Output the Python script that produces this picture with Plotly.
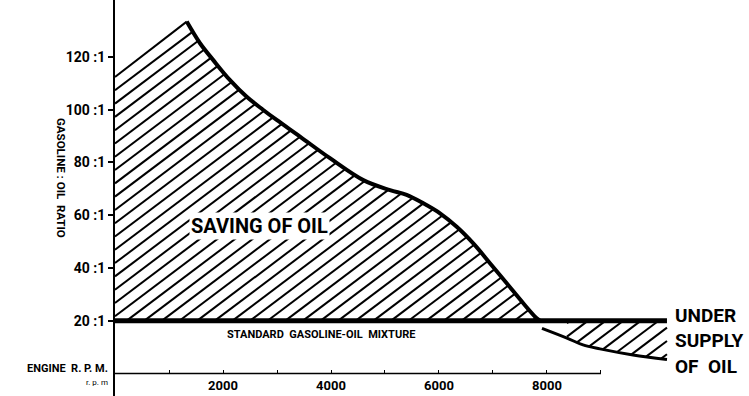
import numpy as np
import plotly.graph_objects as go

# ---- data ----
saving_rpm = [0, 1328, 1574, 1820, 2130, 2439, 2746, 2994, 3426, 3981, 4598, 5093, 5401, 5710, 6019, 6328, 6635, 6944, 7254, 7561, 7809, 7870]
saving_ratio = [112.4, 133.4, 125.2, 118.8, 111.2, 104.9, 99.9, 96.1, 89.8, 81.6, 73.3, 69.5, 67.7, 64.5, 60.7, 55.6, 49.3, 41.8, 34.2, 26.6, 20.9, 20.0]
peak_index = 1

under_rpm = [7907, 8370, 8667, 8981, 9593, 10222]
under_ratio = [17.1, 13.4, 10.8, 9.3, 7.0, 5.3]

standard_ratio = 20
standard_rpm_range = [0, 10222]

y_tick_vals = [20, 40, 60, 80, 100, 120]
y_tick_text = ["20 :1", "40 :1", "60 :1", "80 :1", "100 :1", "120 :1"]
x_tick_vals = [1000, 2000, 3000, 4000, 5000, 6000, 7000, 8000, 9000]
x_tick_text = ["", "2000", "", "4000", "", "6000", "", "8000", ""]
x_axis_end = 9000

x_range = [0, 11741]
y_range = [-8.57, 141.6]

# hatch style (slope in ratio units per rpm, spacing in ratio units)
hatch_slope = 0.01544
hatch_spacing = 5.04

FONT = "Roboto, sans-serif"


def hatch_segments(lower, upper, x0, x1, c_start, n_lines):
    """Diagonal hatch lines clipped to lower(x) <= y <= upper(x), x0<=x<=x1."""
    xs_grid = np.linspace(x0, x1, 3000)
    lo = lower(xs_grid)
    hi = upper(xs_grid)
    hx, hy = [], []
    for k in range(n_lines):
        c = c_start - k * hatch_spacing
        yl = c + hatch_slope * xs_grid
        mask = (yl >= lo) & (yl <= hi)
        if not mask.any():
            continue
        idx = np.flatnonzero(mask)
        breaks = np.flatnonzero(np.diff(idx) > 1)
        starts = np.r_[idx[0], idx[breaks + 1]]
        ends = np.r_[idx[breaks], idx[-1]]
        for s, e in zip(starts, ends):
            if e - s < 2:
                continue
            hx += [float(xs_grid[s]), float(xs_grid[e]), None]
            hy += [float(yl[s]), float(yl[e]), None]
    return hx, hy


sx = np.array(saving_rpm, float)
sy = np.array(saving_ratio, float)
ux = np.array(under_rpm, float)
uy = np.array(under_ratio, float)

hx1, hy1 = hatch_segments(lambda x: np.full_like(x, standard_ratio),
                          lambda x: np.interp(x, sx, sy),
                          sx[0], sx[-1], sy[0] - hatch_spacing, 60)
hx2, hy2 = hatch_segments(lambda x: np.interp(x, ux, uy),
                          lambda x: np.full_like(x, standard_ratio),
                          ux[1], ux[-1], standard_ratio - hatch_slope * ux[1] - 1.0, 60)

fig = go.Figure()

# hatching
fig.add_trace(go.Scatter(x=hx1 + hx2, y=hy1 + hy2, mode="lines",
                         line=dict(color="black", width=2),
                         hoverinfo="skip", showlegend=False))

# thin rising edge of the saving region
fig.add_trace(go.Scatter(x=saving_rpm[:peak_index + 1], y=saving_ratio[:peak_index + 1],
                         mode="lines", line=dict(color="black", width=2),
                         hoverinfo="skip", showlegend=False))

# bold curve from the peak
fig.add_trace(go.Scatter(
    x=saving_rpm[peak_index:], y=saving_ratio[peak_index:],
    mode="lines", line=dict(color="black", width=4, shape="spline", smoothing=1.0),
    hoverinfo="skip", showlegend=False))

# under-supply curve
fig.add_trace(go.Scatter(
    x=under_rpm, y=under_ratio,
    mode="lines", line=dict(color="black", width=3, shape="spline", smoothing=1.0),
    hoverinfo="skip", showlegend=False))

# standard 20:1 line
fig.add_trace(go.Scatter(
    x=standard_rpm_range, y=[standard_ratio, standard_ratio],
    mode="lines", line=dict(color="black", width=5),
    hoverinfo="skip", showlegend=False))

# x axis line (only to 9000)
fig.add_shape(type="line", x0=0, x1=x_axis_end, y0=0, y1=0,
              xref="x", yref="y", line=dict(color="black", width=1.5))

x_pos = (0 - y_range[0]) / (y_range[1] - y_range[0])

fig.update_layout(
    width=749, height=396,
    margin=dict(l=115, r=0, t=0, b=0),
    plot_bgcolor="white", paper_bgcolor="white",
    font=dict(family=FONT, color="black"),
    xaxis=dict(range=x_range, showgrid=False, zeroline=False, showline=False,
               anchor="free", position=x_pos,
               tickmode="array", tickvals=x_tick_vals, ticktext=x_tick_text,
               ticks="inside", ticklen=3, tickwidth=1, tickcolor="black",
               ticklabelstandoff=3,
               tickfont=dict(family=FONT, size=13, color="black", weight="bold")),
    yaxis=dict(range=y_range, showgrid=False, zeroline=False,
               showline=True, linecolor="black", linewidth=2,
               tickmode="array", tickvals=y_tick_vals, ticktext=y_tick_text,
               ticks="outside", ticklen=5, tickwidth=1.5, tickcolor="black",
               tickfont=dict(family=FONT, size=14, color="black", weight="bold")),
)

ann = [
    dict(text="SAVING OF OIL", x=2685, y=55.8, font=dict(size=20, weight="bold"),
         bgcolor="white", borderpad=1),
    dict(text="STANDARD  GASOLINE-OIL  MIXTURE", x=3815, y=14.6, font=dict(size=11, weight="bold")),
    dict(text="UNDER", x=10333, y=21.8, xanchor="left", font=dict(size=19, weight="bold")),
    dict(text="SUPPLY", x=10333, y=12.3, xanchor="left", font=dict(size=19, weight="bold")),
    dict(text="OF  OIL", x=10333, y=2.6, xanchor="left", font=dict(size=19, weight="bold")),
    dict(text="GASOLINE : OIL  RATIO", x=(52 - 115) / 634, xref="paper", y=74.1, textangle=90,
         font=dict(size=11.5, weight="bold")),
    dict(text="ENGINE  R. P. M.", x=(110 - 115) / 634, xref="paper", y=2.0, xanchor="right",
         font=dict(size=11, weight="bold")),
    dict(text="r. p. m", x=(110 - 115) / 634, xref="paper", y=-3.3, xanchor="right", font=dict(size=8)),
]
for a in ann:
    a.setdefault("xref", "x")
    a.setdefault("yref", "y")
    a["showarrow"] = False
    a["font"].setdefault("family", FONT)
    a["font"].setdefault("color", "black")
    fig.add_annotation(**a)

fig.write_html("out.html")
